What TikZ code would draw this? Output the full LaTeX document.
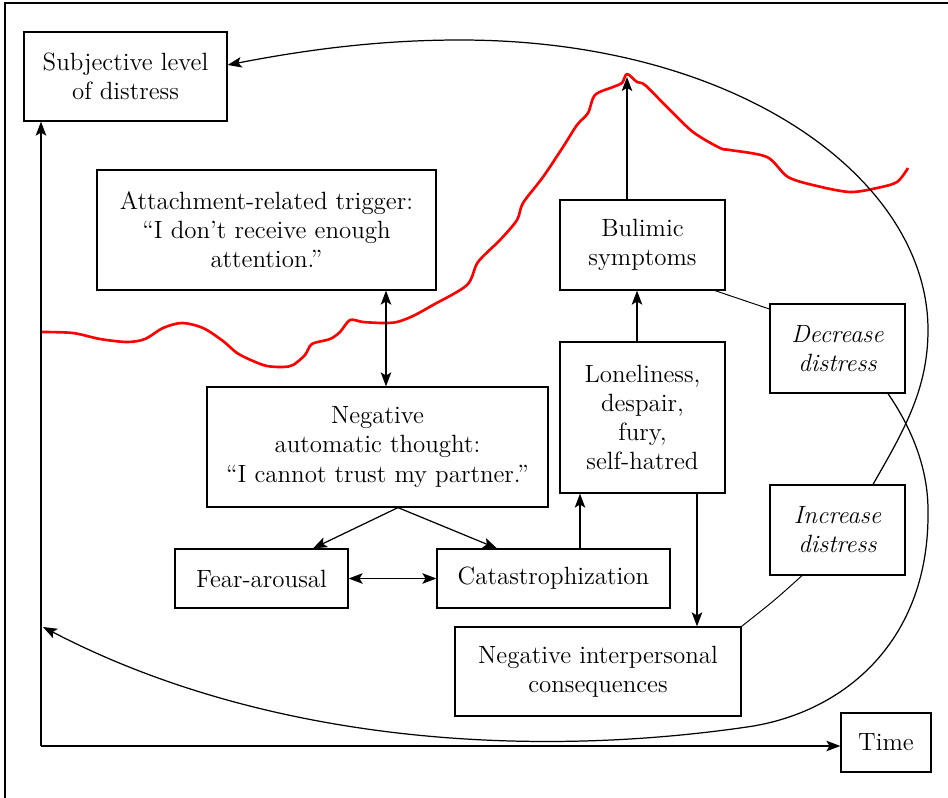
\documentclass[tikz,border=0pt]{standalone}
\usetikzlibrary{arrows.meta,calc}

\begin{document}
\begin{tikzpicture}[x=0.02cm,y=-0.02cm,
    box/.style={draw,line width=0.7pt,align=center,inner sep=2pt,
      font=\fontsize{14.2}{16.6}\selectfont},
    arr/.style={-{Stealth[length=8pt,width=6pt,inset=1.8pt]},line width=0.7pt},
    dbl/.style={{Stealth[length=8pt,width=6pt,inset=1.8pt]}-{Stealth[length=8pt,width=6pt,inset=1.8pt]},line width=0.7pt},
    thinline/.style={line width=0.55pt},
    redline/.style={red,line width=1.5pt,line join=round}]
      \useasboundingbox (0,0) rectangle (948,798);
      \draw[line width=0.7pt] (5,798) -- (5,3) -- (948,3);

      \node[box,minimum width=4.06cm,minimum height=1.78cm] (subj) at (125.5,76.5) {Subjective level\\of distress};
      \node[box,minimum width=6.78cm,minimum height=2.4cm] (trig) at (266.5,230) {Attachment-related trigger:\\``I don't receive enough\\attention.''};
      \node[box,minimum width=6.82cm,minimum height=2.4cm] (neg) at (377.5,447) {Negative\\automatic thought:\\``I cannot trust my partner.''};
      \node[box,minimum width=3.46cm,minimum height=1.18cm] (fear) at (261.5,578.5) {Fear-arousal};
      \node[box,minimum width=4.66cm,minimum height=1.18cm] (cata) at (553.5,578.5) {Catastrophization};
      \node[box,minimum width=3.3cm,minimum height=3.02cm] (lone) at (642.5,417.5) {Loneliness,\\despair,\\fury,\\self-hatred};
      \node[box,minimum width=3.3cm,minimum height=1.8cm] (buli) at (642.5,245) {Bulimic\\symptoms};
      \node[box,minimum width=2.7cm,minimum height=1.78cm,font=\fontsize{14.2}{16.6}\selectfont\itshape] (decr) at (837.5,348.5) {Decrease\\distress};
      \node[box,minimum width=2.7cm,minimum height=1.8cm,font=\fontsize{14.2}{16.6}\selectfont\itshape] (incr) at (837.5,530) {Increase\\distress};
      \node[box,minimum width=5.72cm,minimum height=1.78cm] (inter) at (598,671.5) {Negative interpersonal\\consequences};
      \node[box,minimum width=1.8cm,minimum height=1.18cm] (time) at (886,742.5) {Time};

      \coordinate (orig) at (41,746);
      \coordinate (peak) at (627,77);
      \coordinate (low) at (43,627);

      \draw[redline] plot[smooth,tension=0.5] coordinates {(42,332) (73,333) (100,339) (127,342) (145,339) (163,328) (182,323) (203,328) (223,341) (237,353) (253,361) (267,366) (283,367) (293,365) (305,355) (312,344) (330,339) (340,332) (350,320) (363,322) (383,323) (397,322) (413,316) (433,305) (467,285) (478,262) (500,240) (517,220) (523,203) (543,177) (563,147) (577,125) (588,113) (595,95) (613,87) (622,83) (627,74) (637,82) (645,85) (667,107) (693,132) (720,148) (730,150) (767,157) (788,177) (817,186) (850,192) (877,188) (897,182) (908,168)};

      \draw[arr] (orig) -- (orig |- subj.south);
      \draw[arr] (orig) -- (orig -| time.west);

      \draw[dbl] (trig.south -| 386,0) -- (neg.north -| 386,0);
      \draw[arr] (neg.south -| 398,0) -- (fear.north -| 313,0);
      \draw[arr] (neg.south -| 398,0) -- (cata.north -| 497,0);
      \draw[dbl] (fear.east) -- (cata.west);
      \draw[arr] (cata.north -| 580,0) -- (lone.south -| 580,0);
      \draw[arr] (lone.north -| 637,0) -- (buli.south -| 637,0);
      \draw[arr] (buli.north -| peak) -- (peak);
      \draw[arr] (lone.south -| 697,0) -- (inter.north -| 697,0);
      \draw[thinline] (buli.south -| 715,0) -- (decr.west |- 0,309);
      \draw[thinline] (inter.north east) .. controls (775,600) .. (incr.south -| 802,0);

      \draw[thinline,arr] (decr.south -| 888,0) .. controls (913,430) and (928,470) .. (928,510)
        .. controls (930,640) and (845,713) .. (747,727)
        .. controls (520,760) and (260,740) .. (low);
      \draw[thinline,arr] (incr.north -| 873,0) .. controls (903,432) and (928,390) .. (928,330)
        .. controls (928,180) and (740,40) .. (460,40)
        .. controls (380,40) and (307,49.5) .. (subj.east |- 0,65);
\end{tikzpicture}
\end{document}
